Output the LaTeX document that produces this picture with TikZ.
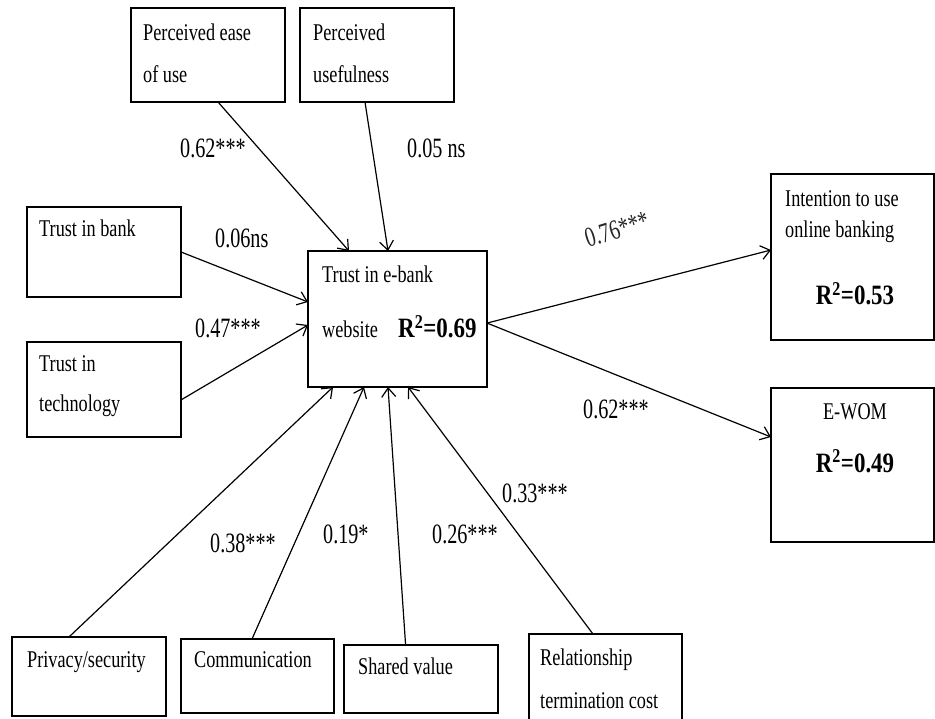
\documentclass[tikz,border=0pt]{standalone}
\usepackage{fontspec}
\setmainfont{Liberation Serif}
\newfontfamily\boxfont{Liberation Serif}[FakeStretch=0.76]
\newfontfamily\rfont{Liberation Serif}[FakeStretch=0.82]
\newfontfamily\lblfont{Liberation Serif}[FakeStretch=0.72]
\usetikzlibrary{calc,arrows.meta}
\begin{document}
\begin{tikzpicture}[x=1pt,y=-1pt,
  box/.style={draw=black,line width=1.4pt,rectangle,inner sep=0pt,outer sep=0pt,anchor=north west},
  txt/.style={anchor=base west,inner sep=0pt,font=\boxfont\fontsize{24}{28}\selectfont},
  rsq/.style={anchor=base,inner sep=0pt,font=\rfont\bfseries\fontsize{28}{32}\selectfont},
  lbl/.style={anchor=base west,inner sep=0pt,font=\lblfont\fontsize{28}{32}\selectfont},
  arr/.style={line width=1.2pt,-{Straight Barb[length=9pt,width=14pt,line width=1.2pt]}}]
\useasboundingbox (0,0) rectangle (935,719);
\clip (0,0) rectangle (935,719);
% boxes
\node[box,minimum width=154pt,minimum height=94pt] (ease) at (131,8) {};
\node[box,minimum width=154pt,minimum height=94pt] (useful) at (300,8) {};
\node[box,minimum width=154pt,minimum height=90pt] (bank) at (27,207) {};
\node[box,minimum width=154pt,minimum height=95pt] (tech) at (27,342) {};
\node[box,minimum width=179pt,minimum height=136pt] (center) at (308,251) {};
\node[box,minimum width=163pt,minimum height=166pt] (intent) at (771,174) {};
\node[box,minimum width=163pt,minimum height=154pt] (ewom) at (771,388) {};
\node[box,minimum width=154pt,minimum height=79pt] (priv) at (12,637) {};
\node[box,minimum width=153pt,minimum height=74pt] (comm) at (181,639) {};
\node[box,minimum width=154pt,minimum height=68pt] (shared) at (344,645) {};
\node[box,minimum width=153pt,minimum height=100pt] (rel) at (529,634) {};
% box texts
\node[txt] (t-ease1) at (143,41) {Perceived ease};
\node[txt] (t-ease2) at (143,83) {of use};
\node[txt] (t-use1) at (313,41) {Perceived};
\node[txt] (t-use2) at (313,83) {usefulness};
\node[txt] (t-bank) at (39,237) {Trust in bank};
\node[txt] (t-tech1) at (39,372) {Trust in};
\node[txt] (t-tech2) at (39,412) {technology};
\node[txt] (t-c1) at (322,283) {Trust in e-bank};
\node[txt] (t-c2) at (322,338) {website};
\node[rsq,anchor=base west] (t-c3) at (398,338) {R\textsuperscript{2}=0.69};
\node[txt] (t-i1) at (785,207) {Intention to use};
\node[txt] (t-i2) at (785,238) {online banking};
\node[rsq] (t-i3) at (855,305) {R\textsuperscript{2}=0.53};
\node[txt,anchor=base] (t-e1) at (855,420) {E-WOM};
\node[rsq] (t-e2) at (855,472) {R\textsuperscript{2}=0.49};
\node[txt] (t-priv) at (27,667) {Privacy/security};
\node[txt] (t-comm) at (194,667) {Communication};
\node[txt] (t-shared) at (358,674) {Shared value};
\node[txt] (t-rel1) at (540,665) {Relationship};
\node[txt] (t-rel2) at (540,708) {termination cost};
% connectors
\draw[arr] ($(ease.south west)!0.565!(ease.south east)$) -- ($(center.north west)!0.229!(center.north east)$);
\draw[arr] ($(useful.south west)!0.422!(useful.south east)$) -- ($(center.north west)!0.447!(center.north east)$);
\draw[arr] ($(bank.north east)!0.5!(bank.south east)$) -- ($(center.north west)!0.375!(center.south west)$);
\draw[arr] ($(tech.north east)!0.61!(tech.south east)$) -- ($(center.north west)!0.544!(center.south west)$);
\draw[arr] ($(center.north east)!0.53!(center.south east)$) -- ($(intent.north west)!0.458!(intent.south west)$);
\draw[arr] ($(center.north east)!0.53!(center.south east)$) -- ($(ewom.north west)!0.318!(ewom.south west)$);
\draw[arr] ($(priv.north west)!0.37!(priv.north east)$) -- ($(center.south west)!0.14!(center.south east)$);
\draw[arr] ($(comm.north west)!0.464!(comm.north east)$) -- ($(center.south west)!0.313!(center.south east)$);
\draw[arr] ($(shared.north west)!0.40!(shared.north east)$) -- ($(center.south west)!0.447!(center.south east)$);
\draw[arr] ($(rel.north west)!0.418!(rel.north east)$) -- ($(center.south west)!0.559!(center.south east)$);
% labels
\node[lbl] (l-ease) at (180,158) {0.62***};
\node[lbl] (l-use) at (407,158) {0.05 ns};
\node[lbl] (l-bank) at (215,248) {0.06ns};
\node[lbl] (l-tech) at (195,338) {0.47***};
\node[lbl,rotate=17,text=black!85] (l-int) at (588,248) {0.76***};
\node[lbl] (l-ewom) at (583,418) {0.62***};
\node[lbl] (l-rel) at (502,502) {0.33***};
\node[lbl] (l-priv) at (210,552) {0.38***};
\node[lbl] (l-comm) at (323,543) {0.19*};
\node[lbl] (l-shared) at (432,543) {0.26***};
\end{tikzpicture}
\end{document}
